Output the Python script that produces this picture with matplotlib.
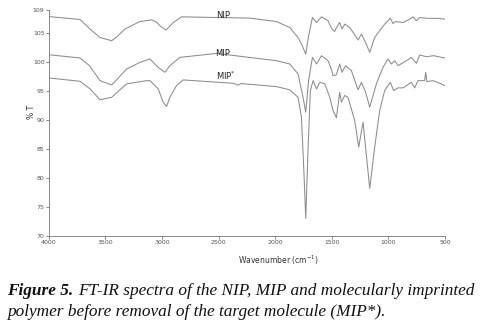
import matplotlib
matplotlib.use("Agg")
import matplotlib.pyplot as plt

# Spectra: wavenumber (cm-1) and transmittance (%T)
nip_wn = [4000, 3723, 3635, 3547, 3444, 3390, 3327, 3195, 3091, 3045, 3018, 2963,
          2900, 2827, 2224, 1988, 1871, 1798, 1760, 1730, 1705, 1671, 1635, 1591,
          1533, 1500, 1475, 1450, 1430, 1410, 1386, 1342, 1290, 1268, 1238, 1200,
          1165, 1121, 1077, 1033, 1004, 983, 960, 936, 871, 812, 783, 753, 724,
          650, 560, 504]
nip_t = [107.85, 107.34, 105.69, 104.24, 103.68, 104.5, 105.69, 106.99, 107.28,
         106.86, 106.25, 105.52, 106.82, 107.8, 107.58, 106.99, 105.96, 104.24,
         102.8, 101.36, 104.5, 107.68, 106.82, 107.8, 107.11, 105.74, 105.27,
         106.25, 106.82, 105.69, 106.54, 105.96, 104.5, 103.8, 104.83, 103.3,
         101.67, 104.24, 105.4, 106.54, 107.11, 107.58, 106.65, 106.99, 106.82,
         107.41, 107.8, 107.11, 107.68, 107.54, 107.54, 107.41]

mip_wn = [4000, 3723, 3640, 3547, 3444, 3390, 3312, 3194, 3106, 3033, 2974, 2930,
          2842, 2518, 1988, 1871, 1798, 1754, 1730, 1705, 1671, 1635, 1591, 1533,
          1500, 1489, 1460, 1430, 1410, 1377, 1327, 1268, 1238, 1200, 1165, 1106,
          1048, 1004, 974, 944, 915, 841, 797, 753, 724, 665, 600, 504]
mip_t = [101.27, 100.7, 99.38, 96.8, 96.06, 97.15, 98.81, 99.95, 100.53, 99.09,
         98.23, 99.38, 100.81, 101.49, 100.24, 99.67, 97.96, 93.93, 91.36, 96.8,
         100.81, 99.67, 101.1, 100.24, 98.5, 97.66, 97.8, 99.67, 98.23, 99.38,
         98.52, 95.21, 96.51, 94.74, 92.22, 96.24, 99.09, 100.53, 99.67, 100.24,
         99.38, 100.24, 100.81, 99.78, 101.22, 100.93, 101.1, 100.7]

mipx_wn = [4000, 3723, 3635, 3547, 3444, 3312, 3135, 3106, 3033, 2989, 2959, 2930,
           2871, 2812, 2371, 2327, 2300, 1988, 1871, 1798, 1768, 1748, 1730, 1710,
           1689, 1665, 1635, 1606, 1562, 1518, 1489, 1459, 1430, 1415, 1386, 1357,
           1298, 1262, 1224, 1190, 1165, 1121, 1077, 1033, 983, 954, 915, 871, 841,
           797, 768, 739, 680, 671, 660, 606, 533, 504]
mipx_t = [97.27, 96.68, 95.38, 93.49, 93.93, 96.24, 96.8, 96.8, 95.38, 93.08,
          92.34, 93.93, 95.95, 96.92, 96.34, 96.03, 96.29, 95.77, 95.21, 93.93,
          90.5, 81.91, 73.04, 84.78, 95.09, 96.8, 95.38, 96.51, 96.24, 93.93,
          91.65, 90.4, 94.79, 93.08, 94.23, 93.93, 89.93, 85.34, 89.64, 83.06,
          78.2, 85.34, 91.65, 95.09, 96.51, 95.09, 95.55, 95.55, 95.95, 96.51,
          95.55, 96.8, 96.8, 98.23, 96.63, 96.8, 96.24, 95.95]

y_ticks = [70, 75, 80, 85, 90, 95, 100, 105, 109]
x_ticks = [4000, 3500, 3000, 2500, 2000, 1500, 1000, 500]

fig = plt.figure(figsize=(4.87, 3.34), dpi=100)
ax = fig.add_axes([0.100, 0.2934, 0.8138, 0.677])

line_col = "#8c8c8c"
for wn, t in [(nip_wn, nip_t), (mip_wn, mip_t), (mipx_wn, mipx_t)]:
    ax.plot(wn, t, color=line_col, lw=0.75)

ax.set_xlim(4000, 500)
ax.set_ylim(70, 109)
ax.set_xticks(x_ticks)
ax.set_yticks(y_ticks)
ax.tick_params(labelsize=4.5, length=2, width=0.5, colors="#555555", pad=1)
for s in ["top", "right"]:
    ax.spines[s].set_visible(False)
for s in ["left", "bottom"]:
    ax.spines[s].set_color("#888888")
    ax.spines[s].set_linewidth(0.7)

ax.set_ylabel("% T", fontsize=5.5, color="#333333")
ax.set_xlabel("Wavenumber (cm$^{-1}$)", fontsize=5.5, color="#333333")
ax.yaxis.set_label_coords(-0.032, 0.55)
ax.xaxis.set_label_coords(0.58, -0.077)

# series labels
ax.text(2462, 108.1, "NIP", fontsize=6, ha="center", va="center", color="#222222")
ax.text(2465, 101.5, "MIP", fontsize=6, ha="center", va="center", color="#222222")
ax.text(2436, 97.6, "MIP$^{*}$", fontsize=6, ha="center", va="center", color="#222222")

# caption below the plot
cap_font = "Liberation Serif"
cap_size = 12.4
t1 = fig.text(7 / 487, 1 - 291 / 334, "Figure 5.", fontsize=cap_size, family=cap_font,
              style="italic", weight="bold", va="center", color="#111111")
fig.canvas.draw()
bb = t1.get_window_extent()
fig.text(bb.x1 / 487 + 0.009, 1 - 291 / 334,
         "FT-IR spectra of the NIP, MIP and molecularly imprinted",
         fontsize=cap_size, family=cap_font, style="italic", va="center", color="#111111")
fig.text(7 / 487, 1 - 312 / 334,
         "polymer before removal of the target molecule (MIP*).",
         fontsize=cap_size, family=cap_font, style="italic", va="center", color="#111111")

fig.savefig("out.png", dpi=100)
